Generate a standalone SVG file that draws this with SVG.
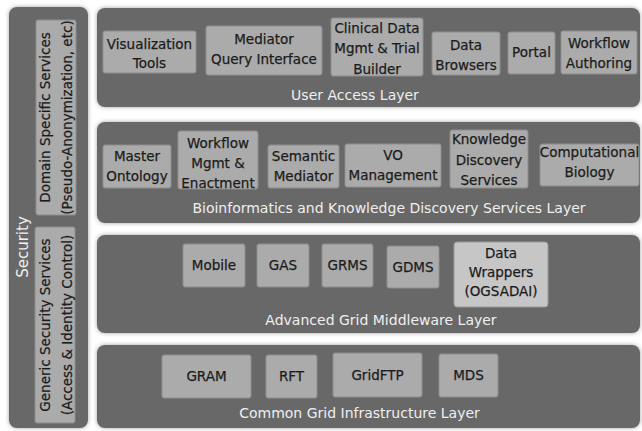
<svg xmlns="http://www.w3.org/2000/svg" width="642" height="431" viewBox="0 0 642 431">
<defs>
<filter id="sh" x="-5%" y="-5%" width="110%" height="110%">
<feDropShadow dx="0" dy="0" stdDeviation="2" flood-color="#8a8a8a" flood-opacity="0.8"/>
</filter>
</defs>
<style>
.panel{fill:#676767;filter:url(#sh)}
.box{fill:#ababab;stroke:#8e8e8e;stroke-width:1}
.box2{fill:#c6c6c6;stroke:#9a9a9a;stroke-width:1}
.bt{font-family:"DejaVu Sans",sans-serif;font-size:13.5px;fill:#1c1c1c;stroke:#1c1c1c;stroke-width:0.25;text-anchor:middle}
.lt{font-family:"DejaVu Sans",sans-serif;font-size:14px;fill:#efefef;text-anchor:middle}
.st{font-family:"DejaVu Sans",sans-serif;font-size:15px;fill:#efefef;text-anchor:middle}
</style>
<rect width="642" height="431" fill="#ffffff"/>

<g id="security">
<rect class="panel" x="9" y="7" width="79" height="421" rx="8"/>
<text class="st" transform="translate(27.5,247) rotate(-90)">Security</text>
</g>
<g id="domain-specific-services">
<rect class="box" x="36" y="20" width="40" height="195" rx="2"/>
<text class="bt" transform="translate(49.5,117.5) rotate(-90)">Domain Specific Services</text>
<text class="bt" transform="translate(72,117.5) rotate(-90)">(Pseudo-Anonymization, etc)</text>
</g>
<g id="generic-security-services">
<rect class="box" x="35" y="227" width="40" height="196" rx="2"/>
<text class="bt" transform="translate(49.5,325) rotate(-90)">Generic Security Services</text>
<text class="bt" transform="translate(71.5,325) rotate(-90)">(Access &amp; Identity Control)</text>
</g>

<g id="user-access-layer">
<rect class="panel" x="97" y="8" width="543" height="99" rx="8"/>
<text class="lt" x="355" y="100">User Access Layer</text>
</g>
<g id="visualization-tools">
<rect class="box" x="103" y="31" width="93" height="42" rx="2"/>
<text class="bt" x="149.5" y="49">Visualization</text>
<text class="bt" x="149.5" y="68">Tools</text>
</g>
<g id="mediator-query-interface">
<rect class="box" x="206" y="26" width="116" height="49" rx="2"/>
<text class="bt" x="264" y="44">Mediator</text>
<text class="bt" x="264" y="64">Query Interface</text>
</g>
<g id="clinical-data">
<rect class="box" x="331" y="18" width="92" height="58" rx="2"/>
<text class="bt" x="377" y="32.5">Clinical Data</text>
<text class="bt" x="377" y="53">Mgmt &amp; Trial</text>
<text class="bt" x="377" y="73.5">Builder</text>
</g>
<g id="data-browsers">
<rect class="box" x="432" y="32" width="68" height="43" rx="2"/>
<text class="bt" x="466" y="50">Data</text>
<text class="bt" x="466" y="70">Browsers</text>
</g>
<g id="portal">
<rect class="box" x="508" y="32" width="47" height="42" rx="2"/>
<text class="bt" x="531.5" y="57">Portal</text>
</g>
<g id="workflow-authoring">
<rect class="box" x="561" y="31" width="76" height="43" rx="2"/>
<text class="bt" x="599" y="48">Workflow</text>
<text class="bt" x="599" y="68">Authoring</text>
</g>

<g id="bioinformatics-layer">
<rect class="panel" x="97" y="122" width="543" height="101" rx="8"/>
<text class="lt" x="389" y="213">Bioinformatics and Knowledge Discovery Services Layer</text>
</g>
<g id="master-ontology">
<rect class="box" x="103" y="145" width="68" height="43" rx="2"/>
<text class="bt" x="137" y="161">Master</text>
<text class="bt" x="137" y="181">Ontology</text>
</g>
<g id="workflow-mgmt">
<rect class="box" x="178" y="131" width="80" height="58" rx="2"/>
<text class="bt" x="218" y="148">Workflow</text>
<text class="bt" x="218" y="168">Mgmt &amp;</text>
<text class="bt" x="218" y="187.5">Enactment</text>
</g>
<g id="semantic-mediator">
<rect class="box" x="268" y="145" width="71" height="43" rx="2"/>
<text class="bt" x="303.5" y="161">Semantic</text>
<text class="bt" x="303.5" y="181">Mediator</text>
</g>
<g id="vo-management">
<rect class="box" x="345" y="144" width="96" height="43" rx="2"/>
<text class="bt" x="393" y="160">VO</text>
<text class="bt" x="393" y="180">Management</text>
</g>
<g id="knowledge-discovery-services">
<rect class="box" x="450" y="130" width="78" height="58" rx="2"/>
<text class="bt" x="489" y="144">Knowledge</text>
<text class="bt" x="489" y="165">Discovery</text>
<text class="bt" x="489" y="185">Services</text>
</g>
<g id="computational-biology">
<rect class="box" x="540" y="144" width="99" height="42" rx="2"/>
<text class="bt" x="589.5" y="157">Computational</text>
<text class="bt" x="589.5" y="177">Biology</text>
</g>

<g id="advanced-grid-middleware-layer">
<rect class="panel" x="97" y="235" width="543" height="98" rx="8"/>
<text class="lt" x="381" y="325">Advanced Grid Middleware Layer</text>
</g>
<g id="mobile">
<rect class="box" x="183" y="244" width="62" height="43" rx="2"/>
<text class="bt" x="214" y="270">Mobile</text>
</g>
<g id="gas">
<rect class="box" x="257" y="244" width="52" height="43" rx="2"/>
<text class="bt" x="283" y="270">GAS</text>
</g>
<g id="grms">
<rect class="box" x="322" y="244" width="51" height="43" rx="2"/>
<text class="bt" x="347.5" y="270">GRMS</text>
</g>
<g id="gdms">
<rect class="box" x="387" y="246" width="52" height="42" rx="2"/>
<text class="bt" x="413" y="271.5">GDMS</text>
</g>
<g id="data-wrappers">
<rect class="box2" x="454" y="242" width="94" height="65" rx="3"/>
<text class="bt" x="501" y="258">Data</text>
<text class="bt" x="501" y="277">Wrappers</text>
<text class="bt" x="501" y="296">(OGSADAI)</text>
</g>

<g id="common-grid-infrastructure-layer">
<rect class="panel" x="97" y="345" width="543" height="83" rx="8"/>
<text class="lt" x="359.5" y="418">Common Grid Infrastructure Layer</text>
</g>
<g id="gram">
<rect class="box" x="162" y="355" width="89" height="43" rx="2"/>
<text class="bt" x="206.5" y="381">GRAM</text>
</g>
<g id="rft">
<rect class="box" x="266" y="355" width="51" height="43" rx="2"/>
<text class="bt" x="291.5" y="381">RFT</text>
</g>
<g id="gridftp">
<rect class="box" x="333" y="353" width="89" height="44" rx="2"/>
<text class="bt" x="377.5" y="380">GridFTP</text>
</g>
<g id="mds">
<rect class="box" x="439" y="354" width="59" height="43" rx="2"/>
<text class="bt" x="468.5" y="380">MDS</text>
</g>
</svg>
